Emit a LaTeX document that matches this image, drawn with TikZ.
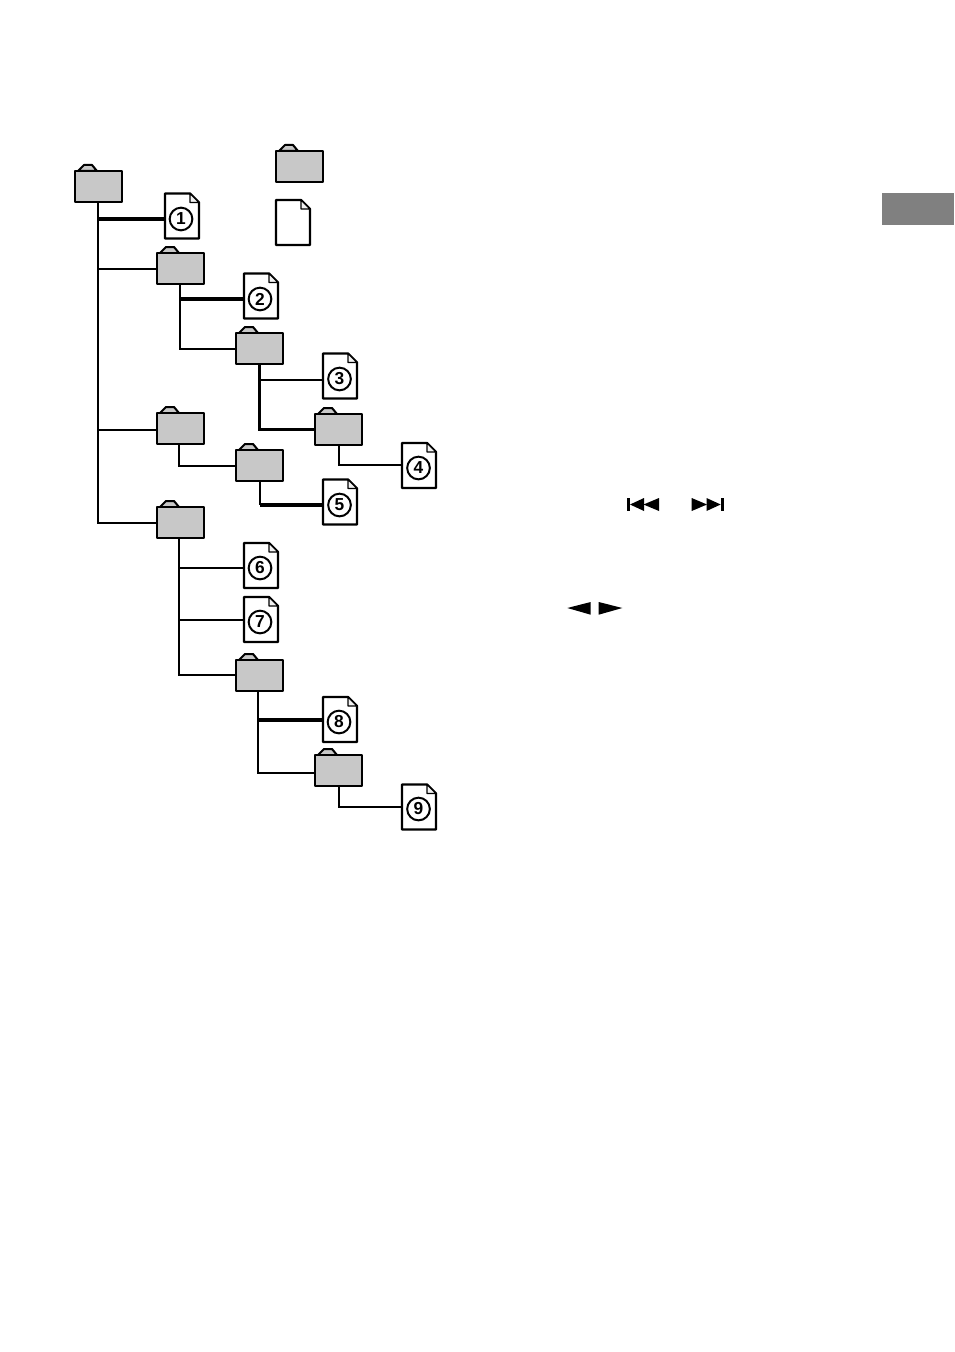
\documentclass[tikz,border=0pt]{standalone}
\usepackage{fontspec}
\setmainfont{Liberation Sans}
\tikzset{
  x=0.75pt,y=-0.75pt,
  outl/.style={draw=black,line width=1.75pt,line join=round},
  foldbody/.style={outl,fill=folderg,rectangle,inner sep=0pt,outer sep=0pt,minimum width=35.25pt,minimum height=23.25pt,anchor=north west},
  foldtab/.style={draw=black,line width=1.5pt,line join=round,fill=folderg},
  docbox/.style={rectangle,inner sep=0pt,outer sep=0pt,minimum width=25.5pt,minimum height=33.75pt,anchor=north west},
  docline/.style={outl,fill=white},
  numcirc/.style={circle,draw=black,line width=1.5pt,fill=white,inner sep=0pt,outer sep=0pt,minimum size=17pt,font=\bfseries\fontsize{13pt}{13pt}\selectfont},
  link/.style={draw=black,line width=1.5pt},
  heavy/.style={draw=black,line width=2.3pt},
  icon/.style={fill=black,draw=none}
}
\definecolor{folderg}{HTML}{C8C8C8}
\definecolor{tabg}{HTML}{808080}
% name, left, top, stem x, entry y
\newcommand{\folderat}[5]{%
  \draw[foldtab] (#2+3,#3) -- (#2+9,#3-6) -- (#2+17,#3-6) -- (#2+22,#3) -- cycle;
  \node[foldbody] (#1) at (#2,#3) {};
  \coordinate (#1s) at (#4,#3+31);
  \coordinate (#1w) at (#2,#5);
}
% name, left, top, entry y
\newcommand{\docat}[4]{%
  \node[docbox] (#1) at (#2,#3) {};
  \draw[docline] (#2,#3) -- (#2+25,#3) -- (#2+34,#3+9) -- (#2+34,#3+45) -- (#2,#3+45) -- cycle;
  \draw[line width=1pt,line join=round,fill=folderg!25] (#2+25,#3) -- (#2+25,#3+9) -- (#2+34,#3+9) -- cycle;
  \coordinate (#1w) at (#2,#4);
}
\begin{document}
\begin{tikzpicture}
\useasboundingbox (0,0) rectangle (954,1352);
\fill[white] (0,0) rectangle (954,1352);
\folderat{root}{75}{171}{98}{219}
\folderat{ftwo}{157}{253}{180}{269}
\folderat{fthree}{236}{333}{259.5}{349}
\folderat{ffour}{315}{414}{339}{429.5}
\folderat{ffive}{157}{413}{179}{430}
\folderat{fsix}{236}{450}{260}{466}
\folderat{fseven}{157}{507}{179}{523}
\folderat{feight}{236}{660}{258}{675}
\folderat{fnine}{315}{755}{339}{773}
\folderat{legendf}{276}{151}{299}{166}
\docat{done}{165}{193.5}{219}
\docat{dtwo}{244}{273.5}{299}
\docat{dthree}{323}{353.5}{380}
\docat{dfour}{402}{443}{465}
\docat{dfive}{323}{479.5}{505}
\docat{dsix}{244}{543}{568}
\docat{dseven}{244}{597}{620}
\docat{deight}{323}{697}{720}
\docat{dnine}{402}{784.5}{807}
\docat{legendd}{276}{200}{222}
\node[numcirc] (none) at (181,219) {1};
\node[numcirc] (ntwo) at (260,299) {2};
\node[numcirc] (nthree) at (339.5,379) {3};
\node[numcirc] (nfour) at (418.5,468) {4};
\node[numcirc] (nfive) at (339.5,505) {5};
\node[numcirc] (nsix) at (260,568) {6};
\node[numcirc] (nseven) at (260,622) {7};
\node[numcirc] (neight) at (339,722) {8};
\node[numcirc] (nnine) at (418.5,809) {9};
% connectors
\draw[link] (roots) -- (roots |- fsevenw) -- (fsevenw);
\draw[heavy] (roots |- donew) -- (donew);
\draw[link] (roots |- ftwow) -- (ftwow);
\draw[link] (roots |- ffivew) -- (ffivew);
\draw[link] (ftwos) |- (fthreew);
\draw[heavy] (ftwos |- dtwow) -- (dtwow);
\draw[heavy] (fthrees) |- (ffourw);
\draw[link] (fthrees |- dthreew) -- (dthreew);
\draw[link] (ffours) |- (dfourw);
\draw[link] (ffives) |- (fsixw);
\draw[link] (fsixs) -- (fsixs |- dfivew);
\draw[heavy] (fsixs |- dfivew) -- (dfivew);
\draw[link] (fsevens) |- (feightw);
\draw[link] (fsevens |- dsixw) -- (dsixw);
\draw[link] (fsevens |- dsevenw) -- (dsevenw);
\draw[link] (feights) |- (fninew);
\draw[heavy] (feights |- deightw) -- (deightw);
\draw[link] (fnines) |- (dninew);
% side tab
\fill[tabg] (882,193) rectangle (954,225);
% transport icons
\fill[icon] (627.3,498) rectangle (630,511);
\fill[icon] (630,504.5) -- (644,498) -- (644,511) -- cycle;
\fill[icon] (643.5,504.5) -- (659,498) -- (659,511) -- cycle;
\fill[icon] (691.7,498) -- (707,504.5) -- (691.7,511) -- cycle;
\fill[icon] (706.5,498) -- (720.7,504.5) -- (706.5,511) -- cycle;
\fill[icon] (720.7,498) rectangle (723.5,511);
\fill[icon] (567.3,608) -- (590.7,602) -- (590.7,614.7) -- cycle;
\fill[icon] (598.7,602) -- (622.3,608) -- (598.7,614.7) -- cycle;
\end{tikzpicture}
\end{document}
